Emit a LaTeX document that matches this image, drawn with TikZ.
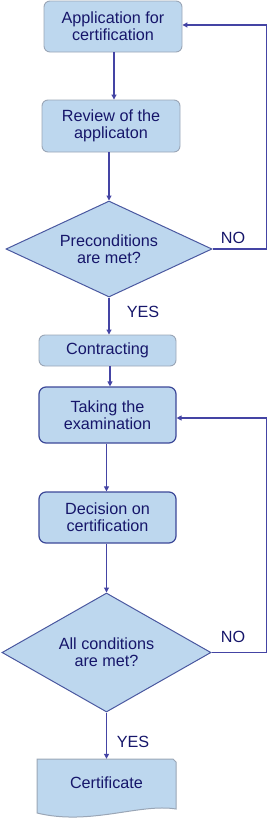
\documentclass[tikz,border=0pt]{standalone}
\usepackage{fontspec}
\setmainfont{Liberation Sans}
\usetikzlibrary{shapes.geometric,arrows.meta}
\definecolor{boxfill}{HTML}{BDD7EE}
\definecolor{txt}{HTML}{16166A}
\definecolor{lineblue}{HTML}{4444A4}
\definecolor{grayborder}{HTML}{9AA6B6}
\definecolor{darkborder}{HTML}{3C4898}
\definecolor{diaborder}{HTML}{4A58A0}
\tikzset{
  base/.style={fill=boxfill, text=txt, align=center, inner sep=0pt,
    font=\fontsize{16.2}{17}\selectfont},
  lightbox/.style={base, draw=grayborder, line width=0.9pt, rounded corners=6pt,
    rectangle, minimum width=138pt},
  darkbox/.style={base, draw=darkborder, line width=1.2pt, rounded corners=7pt,
    rectangle, minimum width=137pt},
  decision/.style={base, draw=diaborder, line width=1pt, diamond},
  lbl/.style={text=txt, inner sep=0pt, font=\fontsize{16.2}{17}\selectfont},
  conn/.style={draw=lineblue, line width=1.1pt, -{Triangle[length=5pt,width=5pt]}},
}
\begin{document}
\begin{tikzpicture}[x=1pt,y=-1pt]
\useasboundingbox (0,0) rectangle (268,819);

\node[lightbox, minimum height=51pt] (app) at (113,26.5) {Application for\\certification};
\node[lightbox, minimum height=52pt] (rev) at (111,126) {Review of the\\applicaton};
\node[decision, minimum width=206pt, minimum height=96pt, aspect=2.15] (pre) at (109,249) {Preconditions\\are met?};
\node[lightbox, minimum width=137pt, minimum height=31pt] (con) at (107.5,350.5) {Contracting};
\node[darkbox, minimum height=56pt] (exam) at (107.5,415) {Taking the\\examination};
\node[darkbox, minimum height=51pt] (dec) at (107.5,517.5) {Decision on\\certification};
\node[decision, minimum width=209pt, minimum height=119pt, aspect=1.76] (all) at (106.5,652.5) {All conditions\\are met?};

% certificate (document shape)
\node[inner sep=0pt, minimum width=139pt, minimum height=54pt] (cert) at (106.5,786) {};
\draw[draw=grayborder, line width=1pt, fill=boxfill]
  (37,759) -- (173,759) -- (176,762) -- (176,809)
  .. controls (140,803) and (90,826) .. (37,813) -- cycle;
\node[lbl] (certtxt) at (106.5,783) {Certificate};

% labels
\node[lbl] (no1) at (233,238) {NO};
\node[lbl] (yes1) at (143,312) {YES};
\node[lbl] (no2) at (233,637) {NO};
\node[lbl] (yes2) at (133,742) {YES};

% connectors
\draw[conn] ([xshift=1pt]app.south) -- ([xshift=1pt]app.south |- rev.north);
\draw[conn] (pre.north |- rev.south) -- (pre.north);
\draw[conn] (pre.south) -- (pre.south |- con.north);
\draw[conn] ([xshift=2.5pt]con.south) -- ([xshift=2.5pt]con.south |- exam.north);
\draw[conn] (all.north |- exam.south) -- (all.north |- dec.north);
\draw[conn] (all.north |- dec.south) -- (all.north);
\draw[conn] (all.south) -- (all.south |- cert.north);
\draw[conn] (pre.east) -- (266.5,249) |- ([yshift=1.5pt]app.east);
\draw[conn] (all.east) -- (266.5,652.5) |- ([yshift=-3pt]exam.east);
\end{tikzpicture}
\end{document}
